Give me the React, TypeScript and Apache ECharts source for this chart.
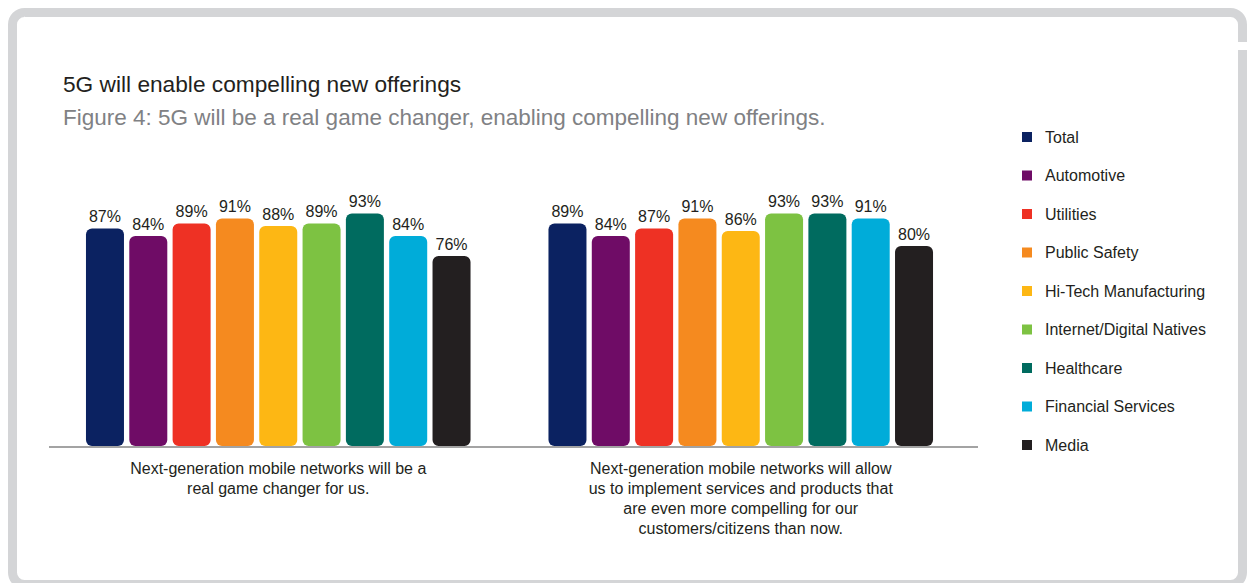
import React, { useEffect, useRef } from "react";
import * as echarts from "echarts";

const categories = [
  "Next-generation mobile networks will be a\nreal game changer for us.",
  "Next-generation mobile networks will allow\nus to implement services and products that\nare even more compelling for our\ncustomers/citizens than now.",
];

const seriesNames = [
  "Total",
  "Automotive",
  "Utilities",
  "Public Safety",
  "Hi-Tech Manufacturing",
  "Internet/Digital Natives",
  "Healthcare",
  "Financial Services",
  "Media",
];

const totalValues = [87, 89];
const automotiveValues = [84, 84];
const utilitiesValues = [89, 87];
const publicSafetyValues = [91, 91];
const hiTechValues = [88, 86];
const internetValues = [89, 93];
const healthcareValues = [93, 93];
const financialValues = [84, 91];
const mediaValues = [76, 80];

const seriesValues = [
  totalValues,
  automotiveValues,
  utilitiesValues,
  publicSafetyValues,
  hiTechValues,
  internetValues,
  healthcareValues,
  financialValues,
  mediaValues,
];

const colors = [
  "#0b2261",
  "#6f0c66",
  "#ee3124",
  "#f58a1f",
  "#fdb714",
  "#7dc242",
  "#006b5f",
  "#00acd9",
  "#231f20",
];

const FONT = "'Liberation Sans', Arial, Helvetica, sans-serif";
const TEXT = "#231f20";

export default function App() {
  const ref = useRef<HTMLDivElement>(null);

  useEffect(() => {
    if (!ref.current) return;
    const chart = echarts.init(ref.current, undefined, { renderer: "svg" });
    chart.setOption({
      animation: false,
      backgroundColor: "#ffffff",
      textStyle: { fontFamily: FONT },
      title: {
        left: 63,
        top: 73,
        padding: 0,
        itemGap: 10,
        text: "5G will enable compelling new offerings",
        textStyle: {
          fontFamily: FONT,
          fontSize: 22.7,
          fontWeight: "normal",
          color: TEXT,
          lineHeight: 22,
        },
        subtext:
          "Figure 4: 5G will be a real game changer, enabling compelling new offerings.",
        subtextStyle: {
          fontFamily: FONT,
          fontSize: 22.5,
          color: "#808184",
          lineHeight: 22,
        },
      },
      legend: {
        orient: "vertical",
        left: 1022,
        top: 127,
        padding: 0,
        itemGap: 18.5,
        itemWidth: 10,
        itemHeight: 10,
        icon: "rect",
        data: seriesNames,
        textStyle: {
          fontFamily: FONT,
          fontSize: 16,
          color: TEXT,
          lineHeight: 20,
          padding: [0, 0, 0, 8],
        },
      },
      grid: {
        left: 47,
        right: 275,
        top: 196,
        bottom: 137,
        containLabel: false,
      },
      xAxis: {
        type: "category",
        data: categories,
        axisLine: { show: false },
        axisTick: { show: false },
        axisLabel: {
          interval: 0,
          margin: 12,
          fontFamily: FONT,
          fontSize: 16,
          lineHeight: 20,
          color: TEXT,
          align: "center",
        },
      },
      yAxis: {
        type: "value",
        min: 0,
        max: 100,
        show: false,
        splitLine: { show: false },
      },
      series: seriesNames.map((name, i) => ({
        name,
        type: "bar",
        data: seriesValues[i],
        barWidth: 38,
        barGap: "14%",
        itemStyle: { color: colors[i], borderRadius: 6 },
        label: {
          show: true,
          position: "top",
          distance: 4,
          formatter: "{c}%",
          fontFamily: FONT,
          fontSize: 16,
          color: TEXT,
        },
      })),
      graphic: [
        {
          type: "rect",
          silent: true,
          shape: { x: 12.5, y: 12.5, width: 1230, height: 572, r: 12 },
          style: { fill: "none", stroke: "#d4d5d7", lineWidth: 9 },
        },
        {
          type: "rect",
          silent: true,
          shape: { x: 1236, y: 42, width: 11, height: 8 },
          style: { fill: "#ffffff" },
        },
        {
          type: "line",
          silent: true,
          shape: { x1: 49, y1: 447, x2: 978, y2: 447 },
          style: { stroke: "#a3a3a3", lineWidth: 2 },
        },
      ],
    });
    return () => chart.dispose();
  }, []);

  return (
    <div
      ref={ref}
      style={{ position: "fixed", left: 0, top: 0, width: 1247, height: 583 }}
    />
  );
}
